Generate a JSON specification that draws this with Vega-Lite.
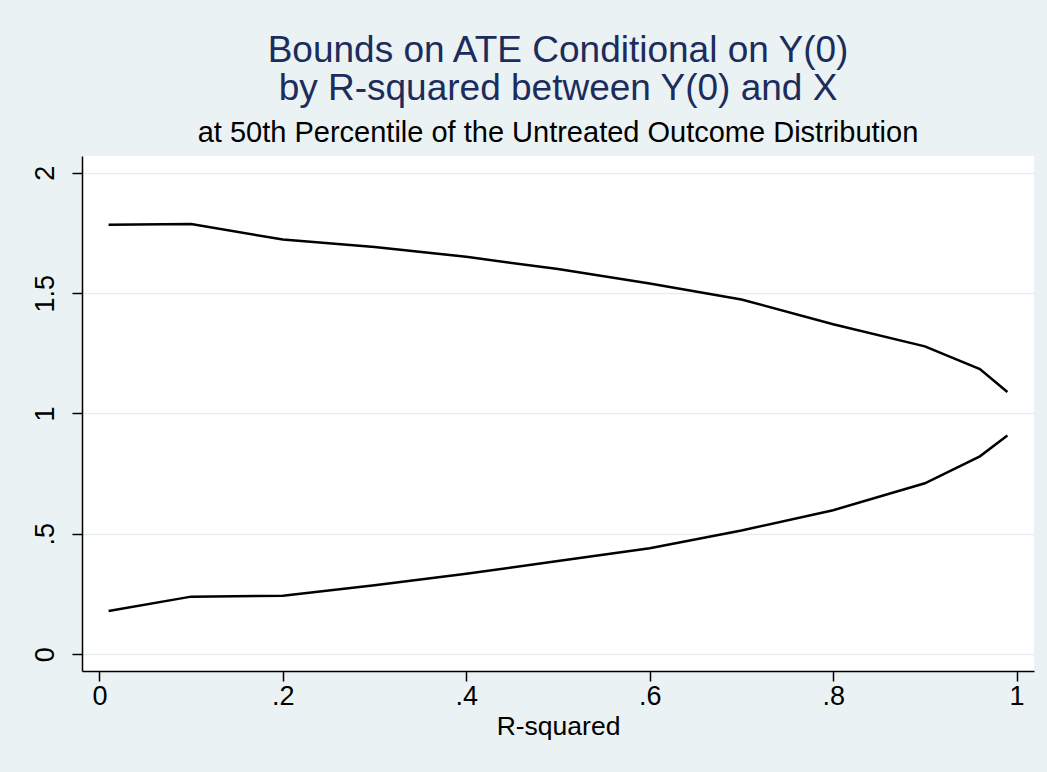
{
  "$schema": "https://vega.github.io/schema/vega-lite/v6.json",
  "width": 952,
  "height": 515,
  "autosize": {"type": "none"},
  "padding": {"left": 82, "top": 156, "right": 13, "bottom": 101},
  "background": "#EAF2F3",
  "config": {
    "view": {"fill": "white", "stroke": null},
    "font": "Liberation Sans"
  },
  "title": {
    "text": ["Bounds on ATE Conditional on Y(0)", "by R-squared between Y(0) and X"],
    "subtitle": "at 50th Percentile of the Untreated Outcome Distribution",
    "anchor": "middle",
    "frame": "group",
    "font": "Liberation Sans",
    "fontSize": 37,
    "fontWeight": "normal",
    "color": "#1C2C5C",
    "lineHeight": 38,
    "subtitleFont": "Liberation Sans",
    "subtitleFontSize": 29,
    "subtitleColor": "#000000",
    "subtitlePadding": 11,
    "offset": 7
  },
  "data": {
    "values": [
      {"r2": 0.01, "bound": "upper", "v": 1.784},
      {"r2": 0.1, "bound": "upper", "v": 1.787},
      {"r2": 0.2, "bound": "upper", "v": 1.723},
      {"r2": 0.3, "bound": "upper", "v": 1.692},
      {"r2": 0.4, "bound": "upper", "v": 1.651},
      {"r2": 0.5, "bound": "upper", "v": 1.600},
      {"r2": 0.6, "bound": "upper", "v": 1.540},
      {"r2": 0.7, "bound": "upper", "v": 1.474},
      {"r2": 0.8, "bound": "upper", "v": 1.371},
      {"r2": 0.9, "bound": "upper", "v": 1.279},
      {"r2": 0.96, "bound": "upper", "v": 1.185},
      {"r2": 0.99, "bound": "upper", "v": 1.089},
      {"r2": 0.01, "bound": "lower", "v": 0.179},
      {"r2": 0.1, "bound": "lower", "v": 0.239},
      {"r2": 0.2, "bound": "lower", "v": 0.243},
      {"r2": 0.3, "bound": "lower", "v": 0.286},
      {"r2": 0.4, "bound": "lower", "v": 0.334},
      {"r2": 0.5, "bound": "lower", "v": 0.387},
      {"r2": 0.6, "bound": "lower", "v": 0.440},
      {"r2": 0.7, "bound": "lower", "v": 0.514},
      {"r2": 0.8, "bound": "lower", "v": 0.598},
      {"r2": 0.9, "bound": "lower", "v": 0.710},
      {"r2": 0.96, "bound": "lower", "v": 0.822},
      {"r2": 0.99, "bound": "lower", "v": 0.909}
    ]
  },
  "mark": {"type": "line", "color": "black", "strokeWidth": 2.5},
  "encoding": {
    "x": {
      "field": "r2",
      "type": "quantitative",
      "scale": {"domain": [-0.019, 1.019], "nice": false, "zero": false},
      "axis": {
        "title": "R-squared",
        "values": [0, 0.2, 0.4, 0.6, 0.8, 1],
        "format": "~g",
        "labelExpr": "replace(datum.label, '0.', '.')",
        "grid": false,
        "domainColor": "black",
        "domainWidth": 1.5,
        "tickColor": "black",
        "tickWidth": 1.5,
        "tickSize": 10,
        "labelFontSize": 27,
        "labelColor": "black",
        "labelPadding": 2,
        "labelFont": "Liberation Sans",
        "titleFont": "Liberation Sans",
        "titleFontSize": 26.5,
        "titleFontWeight": "normal",
        "titleColor": "black",
        "titlePadding": 4
      }
    },
    "y": {
      "field": "v",
      "type": "quantitative",
      "scale": {"domain": [-0.07, 2.07], "nice": false, "zero": false},
      "axis": {
        "title": null,
        "values": [0, 0.5, 1, 1.5, 2],
        "format": "~g",
        "labelExpr": "replace(datum.label, '0.', '.')",
        "grid": true,
        "gridColor": "#E6EEF1",
        "gridWidth": 1.5,
        "domainColor": "black",
        "domainWidth": 1.5,
        "tickColor": "black",
        "tickWidth": 1.5,
        "tickSize": 10,
        "labelAngle": -90,
        "labelAlign": "center",
        "labelBaseline": "bottom",
        "labelFontSize": 27,
        "labelColor": "black",
        "labelFont": "Liberation Sans",
        "labelPadding": 13
      }
    },
    "detail": {"field": "bound", "type": "nominal"}
  }
}
